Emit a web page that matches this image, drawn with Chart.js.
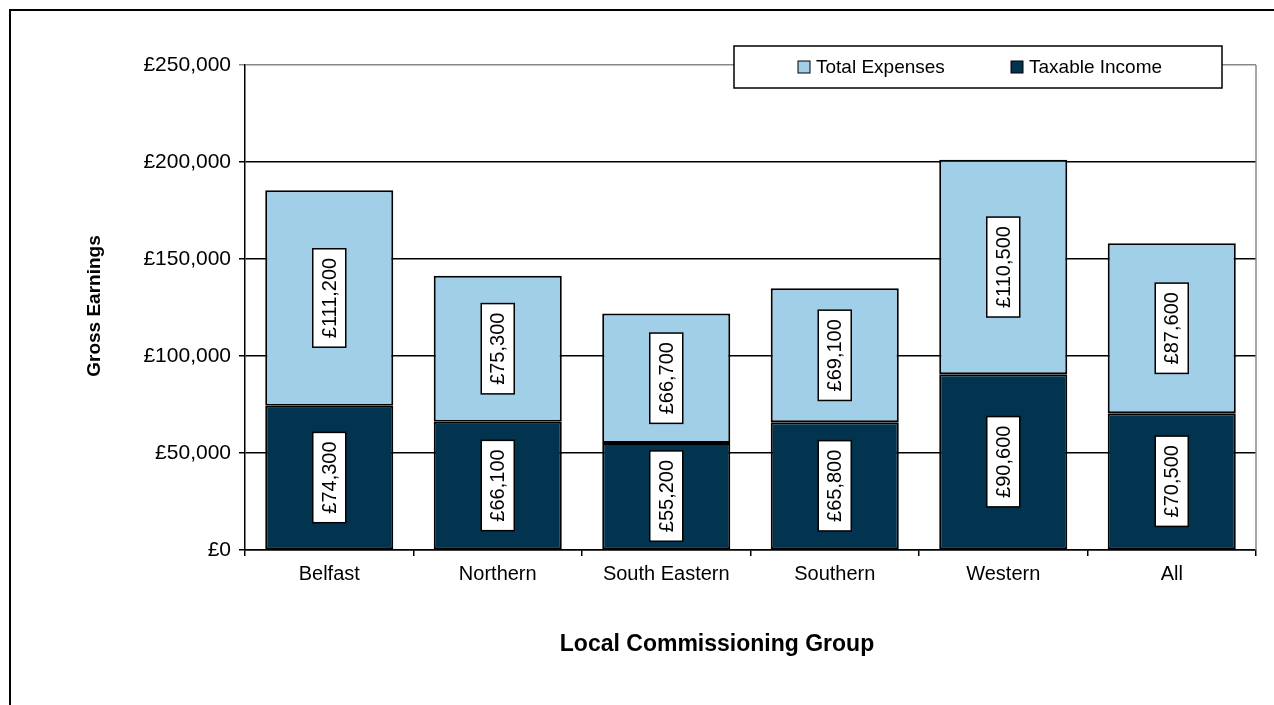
<!DOCTYPE html>
<html>
<head>
<meta charset="utf-8">
<script src="https://cdn.jsdelivr.net/npm/chart.js@4/dist/chart.umd.min.js"></script>
<style>
  html, body { margin: 0; padding: 0; background: #fff; }
  canvas { display: block; }
</style>
</head>
<body>
<canvas id="chart" width="1274" height="705"></canvas>
<script>
// data
const groups = ["Belfast", "Northern", "South Eastern", "Southern", "Western", "All"];
const taxableIncome = [74300, 66100, 55200, 65800, 90600, 70500];
const totalExpenses = [111200, 75300, 66700, 69100, 110500, 87600];
const yTicks = [0, 50000, 100000, 150000, 200000, 250000];

const FONT = "'Liberation Sans', Arial, sans-serif";
const LIGHT = "#A0CFE7";
const DARK = "#023450";

function money(v) {
  return "£" + v.toLocaleString("en-GB");
}

// white background + outer frame + axis titles + legend
const decor = {
  id: "decor",
  beforeDraw(chart) {
    const c = chart.ctx;
    c.save();
    c.fillStyle = "#fff";
    c.fillRect(0, 0, chart.width, chart.height);
    c.restore();
  },
  afterDraw(chart) {
    const c = chart.ctx;
    const a = chart.chartArea;
    c.save();
    // outer frame (top and left only visible)
    c.strokeStyle = "#000";
    c.lineWidth = 2;
    c.beginPath();
    c.moveTo(10, chart.height);
    c.lineTo(10, 10);
    c.lineTo(chart.width, 10);
    c.stroke();

    // grey right edge of plot
    c.strokeStyle = "#888";
    c.lineWidth = 1.5;
    c.beginPath();
    c.moveTo(a.right, a.top);
    c.lineTo(a.right, a.bottom);
    c.stroke();

    // axis titles
    c.fillStyle = "#000";
    c.textAlign = "center";
    c.textBaseline = "middle";
    c.font = "bold 23px " + FONT;
    c.fillText("Local Commissioning Group", 717, 645);
    c.save();
    c.font = "bold 19px " + FONT;
    c.translate(95, 306);
    c.rotate(-Math.PI / 2);
    c.fillText("Gross Earnings", 0, 0);
    c.restore();

    // legend
    c.fillStyle = "#fff";
    c.fillRect(734, 46, 488, 42);
    c.strokeStyle = "#000";
    c.lineWidth = 1.5;
    c.strokeRect(734, 46, 488, 42);
    const items = [[LIGHT, "Total Expenses", 798], [DARK, "Taxable Income", 1011]];
    c.font = "19px " + FONT;
    c.textAlign = "left";
    items.forEach(([col, txt, x]) => {
      c.fillStyle = col;
      c.fillRect(x, 61, 12, 12);
      c.strokeStyle = "#000";
      c.lineWidth = 1;
      c.strokeRect(x, 61, 12, 12);
      c.fillStyle = "#000";
      c.fillText(txt, x + 18, 68);
    });
    c.restore();
  }
};

// rotated value labels in white boxes
const valueLabels = {
  id: "valueLabels",
  afterDatasetsDraw(chart) {
    const c = chart.ctx;
    c.save();
    c.font = "20px " + FONT;
    chart.data.datasets.forEach((ds, di) => {
      const meta = chart.getDatasetMeta(di);
      meta.data.forEach((bar, i) => {
        const txt = money(ds.data[i]);
        const cy = (bar.y + bar.base) / 2;
        const w = c.measureText(txt).width;
        const boxL = w + 18, boxW = 33;
        c.save();
        c.translate(bar.x, cy);
        c.rotate(-Math.PI / 2);
        c.fillStyle = "#fff";
        c.fillRect(-boxL / 2, -boxW / 2, boxL, boxW);
        c.strokeStyle = "#000";
        c.lineWidth = 1.5;
        c.strokeRect(-boxL / 2, -boxW / 2, boxL, boxW);
        c.fillStyle = "#000";
        c.textAlign = "center";
        c.textBaseline = "middle";
        c.fillText(txt, 0, 1);
        c.restore();
      });
    });
    c.restore();
  }
};

new Chart(document.getElementById("chart"), {
  type: "bar",
  data: {
    labels: groups,
    datasets: [
      {
        label: "Taxable Income",
        data: taxableIncome,
        backgroundColor: DARK,
        borderColor: "#000",
        borderWidth: 2,
        borderSkipped: false,
        barPercentage: 0.76,
        categoryPercentage: 1
      },
      {
        label: "Total Expenses",
        data: totalExpenses,
        backgroundColor: LIGHT,
        borderColor: "#000",
        borderWidth: 2,
        borderSkipped: false,
        barPercentage: 0.76,
        categoryPercentage: 1
      }
    ]
  },
  options: {
    responsive: false,
    animation: false,
    devicePixelRatio: 1,
    layout: { padding: { top: 65, right: 18, left: 0, bottom: 0 } },
    plugins: {
      legend: { display: false },
      tooltip: { enabled: false }
    },
    scales: {
      x: {
        stacked: true,
        offset: true,
        grid: { drawOnChartArea: false, color: "#000", tickLength: 6, lineWidth: 1.5, offset: true },
        border: { color: "#000", width: 1.5 },
        ticks: { color: "#000", font: { family: FONT, size: 20 }, padding: 6 },
        afterFit(scale) { scale.height = 155; }
      },
      y: {
        stacked: true,
        min: 0,
        max: 250000,
        afterBuildTicks(scale) { scale.ticks = yTicks.map(v => ({ value: v })); },
        grid: {
          color: ctx => (ctx.tick && ctx.tick.value === 250000 ? "#888" : "#000"),
          lineWidth: 1.5,
          tickLength: 6
        },
        border: { color: "#000", width: 1.5 },
        ticks: {
          color: "#000",
          font: { family: FONT, size: 21 },
          padding: 8,
          callback: v => money(v)
        },
        afterFit(scale) { scale.width = 245; }
      }
    }
  },
  plugins: [decor, valueLabels]
});
</script>
</body>
</html>
